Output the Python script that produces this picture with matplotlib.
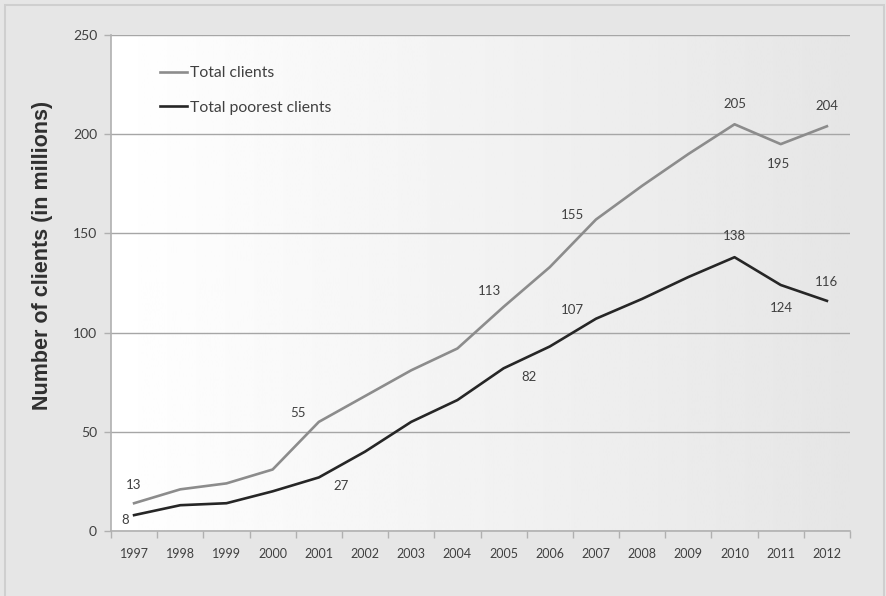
import numpy as np
import matplotlib
matplotlib.use("Agg")
import matplotlib.pyplot as plt
from matplotlib.patches import Rectangle

years = [str(y) for y in range(1997, 2013)]
total_clients = [14, 21, 24, 31, 55, 68, 81, 92, 113, 133, 157, 174, 190, 205, 195, 204]
poorest_clients = [8, 13, 14, 20, 27, 40, 55, 66, 82, 93, 107, 117, 128, 138, 124, 116]

# (index, text, dx, dy) label offsets in pixels
total_labels = [(0, "13", 0, 18), (4, "55", -21, 9), (8, "113", -14, 16), (10, "155", -23, 5),
                (13, "205", 0, 20), (14, "195", -2, -20), (15, "204", 0, 20)]
poorest_labels = [(0, "8", -9, -5), (4, "27", 22, -9), (8, "82", 25, -9), (10, "107", -24, 9),
                  (13, "138", 0, 21), (14, "124", 1, -23), (15, "116", 0, 19)]

font = "Lato"
txt_col = "#404040"

fig = plt.figure(figsize=(8.87, 5.96), dpi=100, facecolor="#e6e6e6")
fig.patches.append(Rectangle((5 / 887, -0.1), 879 / 887, 1.1 - 5 / 596, transform=fig.transFigure,
                             fill=False, edgecolor="#cfcfcf", lw=1.5))
ax = fig.add_axes([111 / 887, 65 / 596, 739 / 887, 496 / 596])
ax.set_facecolor("none")

# gradient plot area: white on the left, grey on the right
grad = np.linspace(1.0, 0.9, 256).reshape(1, -1)
ax.imshow(grad, cmap="gray", vmin=0, vmax=1, extent=[0, 1, 0, 1], transform=ax.transAxes,
          aspect="auto", zorder=0)

x = np.arange(len(years))
ax.plot(x, total_clients, color="#8c8c8c", lw=1.9, label="Total clients", zorder=3)
ax.plot(x, poorest_clients, color="#262626", lw=1.9, label="Total poorest clients", zorder=3)

for series, labels in [(total_clients, total_labels), (poorest_clients, poorest_labels)]:
    for i, t, dx, dy in labels:
        ax.annotate(t, (x[i], series[i]), xytext=(dx, dy), textcoords="offset pixels",
                    ha="center", va="center", fontsize=9.5, family=font, color=txt_col)

ax.set_xlim(-0.5, len(years) - 0.5)
ax.set_ylim(0, 250)
ax.set_yticks(range(0, 251, 50))
ax.yaxis.grid(True, color="#a6a6a6", lw=1)
ax.set_axisbelow(True)

ax.set_xticks(np.arange(-0.5, len(years), 1))
ax.set_xticklabels([])
ax.set_xticks(x, minor=True)
ax.set_xticklabels(years, minor=True)
ax.tick_params(axis="x", which="major", length=5, color="#b0b0b0", width=1)
ax.tick_params(axis="x", which="minor", length=0, pad=12, labelsize=9, labelcolor=txt_col)
ax.tick_params(axis="y", length=5, color="#b0b0b0", width=1, pad=5, labelsize=10, labelcolor=txt_col)
for lab in ax.get_xticklabels(minor=True) + ax.get_yticklabels():
    lab.set_family(font)

for s in ["top", "right"]:
    ax.spines[s].set_visible(False)
for s in ["left", "bottom"]:
    ax.spines[s].set_color("#b0b0b0")
    ax.spines[s].set_linewidth(1.2)

ax.set_ylabel("Number of clients (in millions)", family="Liberation Sans", fontsize=15.5,
              fontweight="bold", color="#303030")
ax.yaxis.set_label_coords(-0.078, 0.555)

leg = ax.legend(loc="upper left", bbox_to_anchor=(0.047, 0.965), frameon=False, handlelength=1.75,
                handletextpad=0.15, labelspacing=1.3, prop={"family": font, "size": 11.3})
for t in leg.get_texts():
    t.set_color(txt_col)

fig.savefig("out.png", dpi=100, facecolor=fig.get_facecolor())
